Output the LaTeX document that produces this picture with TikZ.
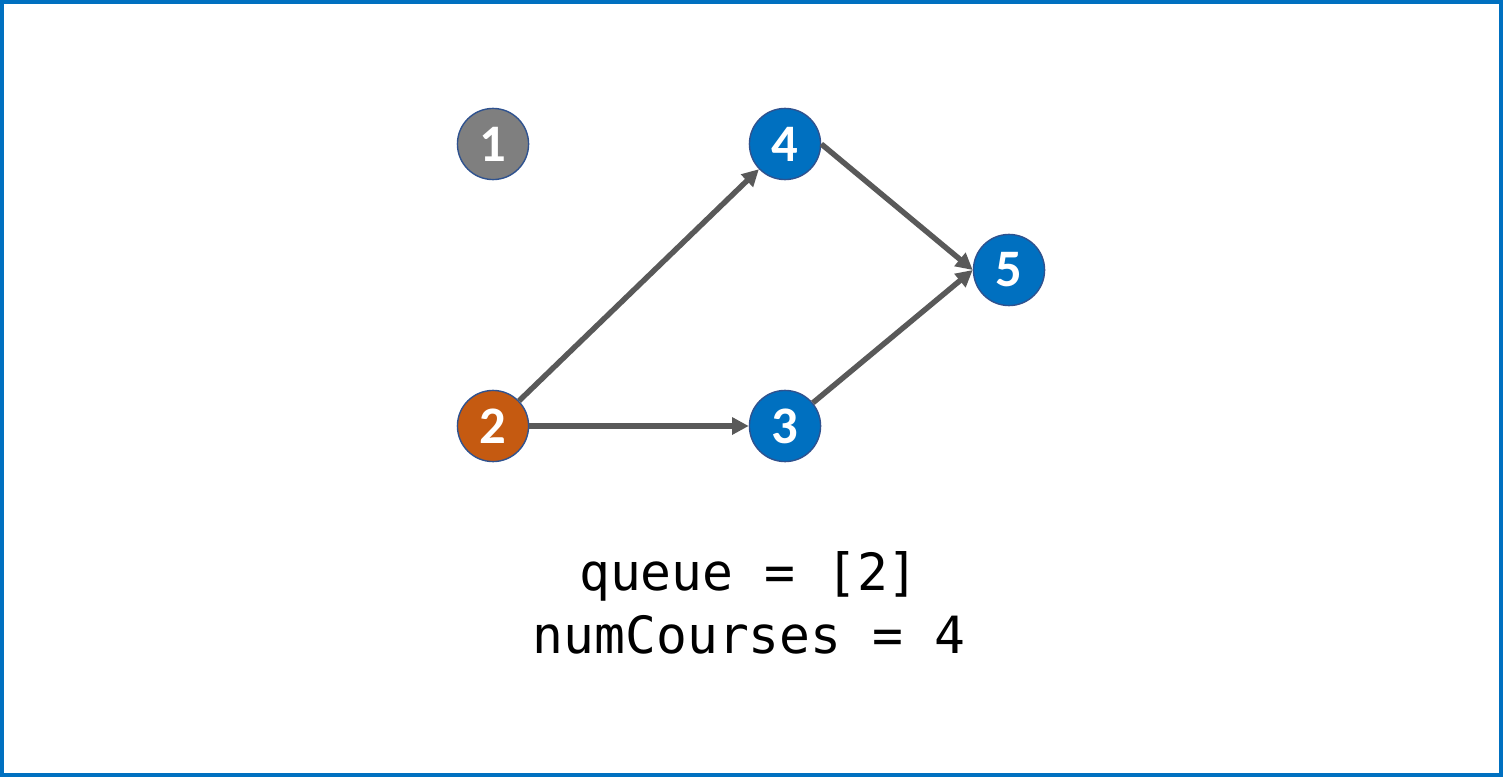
\documentclass[tikz,border=0pt]{standalone}
\usepackage{fontspec}
\usetikzlibrary{arrows.meta}
\newfontfamily\nodefont{Carlito}
\newfontfamily\codefont{DejaVu Sans Mono}
\definecolor{frameblue}{HTML}{0070C0}
\definecolor{nodeblue}{HTML}{0070C0}
\definecolor{nodeorange}{HTML}{C55A11}
\definecolor{nodegray}{HTML}{7F7F7F}
\definecolor{ringblue}{HTML}{2F528F}
\definecolor{edgegray}{HTML}{595959}
\tikzset{
  vertex/.style={circle, draw=ringblue, line width=0.8pt, minimum size=40.5pt,
    inner sep=0pt, text=white, font=\nodefont\fontsize{30}{30}\selectfont\bfseries},
  edge/.style={draw=edgegray, line width=3.1pt,
    -{Triangle[length=9.5pt, width=9.5pt]}}
}
\begin{document}
\begin{tikzpicture}[x=0.02cm, y=-0.02cm]

% ---------- Ramka ----------
\useasboundingbox (0,0) rectangle (1503,777);
\draw[frameblue, line width=2.3pt] (2,2) rectangle (1501,775);

% ---------- Wierzcholki ----------
\node[vertex, fill=nodegray]   (v1) at (493,144)  {1};
\node[vertex, fill=nodeorange] (v2) at (493,426)  {2};
\node[vertex, fill=nodeblue]   (v3) at (785,426)  {3};
\node[vertex, fill=nodeblue]   (v4) at (785,144)  {4};
\node[vertex, fill=nodeblue]   (v5) at (1009,270) {5};

% ---------- Krawedzie ----------
\draw[edge] (v2) -- (v4);
\draw[edge] (v2) -- (v3);
\draw[edge] (v4.east) -- (v5.west);
\draw[edge] (v3) -- (v5.west);

% ---------- Stan kolejki ----------
\node[font=\codefont\fontsize{29.2}{35.7}\selectfont, align=center] (state) at (749,603)
  {queue = [2]\\numCourses = 4};

\end{tikzpicture}
\end{document}
